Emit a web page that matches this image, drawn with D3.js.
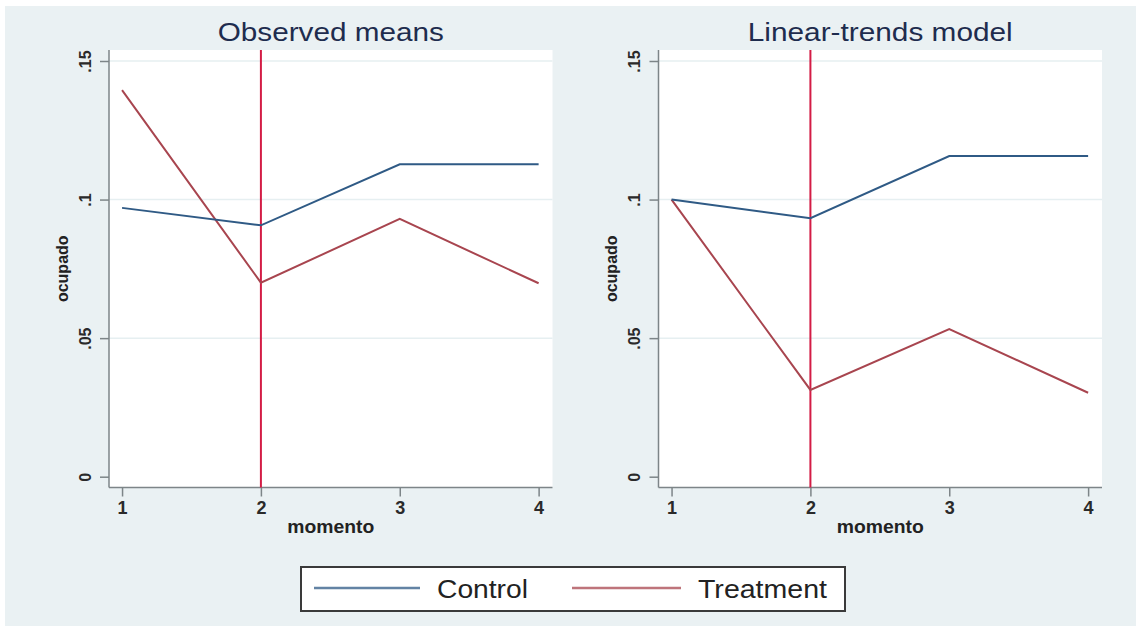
<!DOCTYPE html>
<html>
<head>
<meta charset="utf-8">
<script src="https://cdn.jsdelivr.net/npm/d3@7"></script>
<style>
  body { margin: 0; background: #fff; }
  text { font-family: "Liberation Sans", Arial, sans-serif; }
</style>
</head>
<body>
<script>
"use strict";

// data
let momento = [1, 2, 3, 4];
let yTicks = [0, 0.05, 0.1, 0.15];
let yTickLabels = ["0", ".05", ".1", ".15"];
let panelTitles = ["Observed means", "Linear-trends model"];
let controlObserved = [0.097, 0.0907, 0.1127, 0.1127];
let treatmentObserved = [0.1395, 0.0700, 0.0930, 0.0698];
let controlModel = [0.1, 0.0933, 0.1157, 0.1157];
let treatmentModel = [0.1, 0.0313, 0.0533, 0.0303];
let seriesNames = ["Control", "Treatment"];
let treatmentStart = 2;

let width = 1144;
let height = 626;

let colors = { Control: "#2f5a85", Treatment: "#a8454f" };

let svg = d3.select("body").append("svg").attr("width", width).attr("height", height);

// graph region
svg.append("rect")
  .attr("x", 5).attr("y", 6)
  .attr("width", 1131).attr("height", 620)
  .attr("fill", "#eaf1f3");

let panels = [
  { title: panelTitles[0], titleW: 226, control: controlObserved, treatment: treatmentObserved, left: 109 },
  { title: panelTitles[1], titleW: 265, control: controlModel, treatment: treatmentModel, left: 658.5 }
];

let plotTop = 50;
let plotBottom = 487.5;
let plotW = 443.5;

panels.forEach(function (p) {
  let x = d3.scaleLinear().domain([0.906, 4.1]).range([p.left, p.left + plotW]);
  let y = d3.scaleLinear().domain([0, 0.15]).range([476.7, 61]);

  let g = svg.append("g");

  g.append("rect")
    .attr("x", p.left).attr("y", plotTop)
    .attr("width", plotW).attr("height", plotBottom - plotTop)
    .attr("fill", "#fff");

  // gridlines
  g.selectAll(".grid")
    .data(yTicks.filter(function (d) { return d > 0; }))
    .enter()
    .append("line")
    .attr("x1", p.left).attr("x2", p.left + plotW)
    .attr("y1", function (d) { return y(d); })
    .attr("y2", function (d) { return y(d); })
    .attr("stroke", "#e6eff1")
    .attr("stroke-width", 1.5);

  // y axis
  let yAxis = d3.axisLeft(y)
    .tickValues(yTicks)
    .tickFormat(function (d, i) { return yTickLabels[i]; })
    .tickSize(9)
    .tickPadding(0);
  let ya = g.append("g").attr("transform", "translate(" + p.left + ",0)").call(yAxis);
  ya.select(".domain").attr("d", "M0," + plotTop + "V" + plotBottom);
  ya.selectAll("path, line").attr("stroke", "#7d8588").attr("stroke-width", 1.5);
  ya.selectAll("text")
    .attr("x", 0).attr("y", 0)
    .attr("dy", "0.35em")
    .attr("transform", "translate(-24,0) rotate(-90)")
    .attr("text-anchor", "middle")
    .attr("font-weight", "bold")
    .style("font-size", "16px")
    .attr("fill", "#2a2a2a");

  // x axis
  let xAxis = d3.axisBottom(x)
    .tickValues(momento)
    .tickFormat(d3.format("d"))
    .tickSize(9)
    .tickPadding(5);
  let xa = g.append("g").attr("transform", "translate(0," + plotBottom + ")").call(xAxis);
  xa.select(".domain").attr("d", "M" + p.left + ",0H" + (p.left + plotW));
  xa.selectAll("path, line").attr("stroke", "#7d8588").attr("stroke-width", 1.5);
  xa.selectAll("text")
    .attr("font-weight", "bold")
    .style("font-size", "18px")
    .attr("fill", "#2a2a2a");

  // axis titles
  g.append("text")
    .attr("x", p.left + plotW / 2)
    .attr("y", 533)
    .attr("text-anchor", "middle")
    .attr("font-weight", "bold")
    .style("font-size", "19px")
    .attr("fill", "#222")
    .attr("textLength", 87)
    .attr("lengthAdjust", "spacingAndGlyphs")
    .text("momento");

  g.append("text")
    .attr("transform", "translate(" + (p.left - 47) + "," + ((plotTop + plotBottom) / 2) + ") rotate(-90)")
    .attr("x", 0).attr("y", 0)
    .attr("dy", "0.35em")
    .attr("text-anchor", "middle")
    .attr("font-weight", "bold")
    .style("font-size", "16px")
    .attr("fill", "#222")
    .text("ocupado");

  // title
  g.append("text")
    .attr("x", p.left + plotW / 2)
    .attr("y", 41)
    .attr("text-anchor", "middle")
    .style("font-size", "25px")
    .attr("fill", "#1e2c4e")
    .attr("textLength", p.titleW)
    .attr("lengthAdjust", "spacingAndGlyphs")
    .text(p.title);

  // treatment start line
  g.append("line")
    .attr("x1", x(treatmentStart)).attr("x2", x(treatmentStart))
    .attr("y1", plotTop).attr("y2", plotBottom)
    .attr("stroke", "#d31c45")
    .attr("stroke-width", 2);

  let line = d3.line()
    .x(function (d, i) { return x(momento[i]); })
    .y(function (d) { return y(d); });

  g.append("path")
    .attr("d", line(p.treatment))
    .attr("fill", "none")
    .attr("stroke", colors.Treatment)
    .attr("stroke-width", 2);

  g.append("path")
    .attr("d", line(p.control))
    .attr("fill", "none")
    .attr("stroke", colors.Control)
    .attr("stroke-width", 2);
});

// legend
let legend = svg.append("g");
legend.append("rect")
  .attr("x", 301).attr("y", 567)
  .attr("width", 544).attr("height", 44)
  .attr("fill", "#fff")
  .attr("stroke", "#3a3a3a")
  .attr("stroke-width", 2);

let legendItems = [
  { name: seriesNames[0], x1: 314, x2: 420, tx: 437, tw: 91 },
  { name: seriesNames[1], x1: 572, x2: 681, tx: 698, tw: 129 }
];

legendItems.forEach(function (d) {
  legend.append("line")
    .attr("x1", d.x1).attr("x2", d.x2)
    .attr("y1", 588).attr("y2", 588)
    .attr("stroke", colors[d.name])
    .attr("stroke-opacity", 0.75)
    .attr("stroke-width", 2.5);
  legend.append("text")
    .attr("x", d.tx).attr("y", 598)
    .style("font-size", "26px")
    .attr("fill", "#222")
    .attr("textLength", d.tw)
    .attr("lengthAdjust", "spacingAndGlyphs")
    .text(d.name);
});
</script>
</body>
</html>
